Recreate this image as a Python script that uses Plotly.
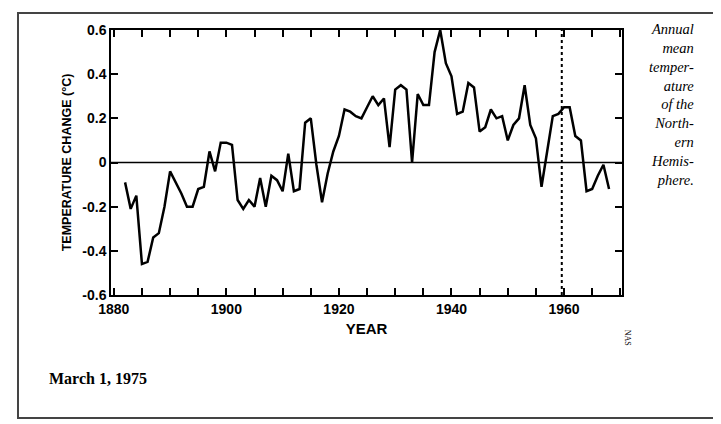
import plotly.graph_objects as go

temps = [-0.09, -0.21, -0.15, -0.46, -0.45, -0.34, -0.32, -0.2, -0.04,
         -0.09, -0.14, -0.2, -0.2, -0.12, -0.11, 0.05, -0.04, 0.09, 0.09,
         0.08, -0.17, -0.21, -0.17, -0.2, -0.07, -0.2, -0.06, -0.08, -0.13,
         0.04, -0.13, -0.12, 0.18, 0.2, -0.01, -0.18, -0.05, 0.05, 0.12,
         0.24, 0.23, 0.21, 0.2, 0.25, 0.3, 0.26, 0.29, 0.07, 0.33, 0.35,
         0.33, 0.0, 0.31, 0.26, 0.26, 0.5, 0.6, 0.45, 0.39, 0.22, 0.23,
         0.36, 0.34, 0.14, 0.16, 0.24, 0.2, 0.21, 0.1, 0.17, 0.2, 0.35,
         0.17, 0.11, -0.11, 0.05, 0.21, 0.22, 0.25, 0.25, 0.12, 0.1, -0.13,
         -0.12, -0.06, -0.01, -0.12]
years = list(range(1882, 1882 + len(temps)))
marker_year = 1959.6

font = "Liberation Sans"
fig = go.Figure()
fig.add_trace(go.Scatter(x=years, y=temps, mode="lines",
                         line=dict(color="black", width=2.5), hoverinfo="skip"))
fig.add_hline(y=0, line=dict(color="black", width=1.5))
fig.add_vline(x=marker_year, line=dict(color="black", width=2, dash="dot"))

axis_common = dict(showgrid=False, zeroline=False, ticks="inside", ticklen=7,
                   tickwidth=1.5, tickcolor="black", showline=True, mirror="ticks",
                   linecolor="black", linewidth=1.5,
                   tickfont=dict(family=font, size=14, color="black"))
xt = list(range(1880, 1971, 5))
fig.update_xaxes(range=[1879.5, 1970.3], tickvals=xt,
                 ticktext=[f"<b>{y}</b>" if y % 20 == 0 else "" for y in xt],
                 title=dict(text="<b>YEAR</b>", font=dict(family=font, size=15, color="black"), standoff=8),
                 **axis_common)
yt = [-0.6, -0.4, -0.2, 0, 0.2, 0.4, 0.6]
fig.update_yaxes(range=[-0.6, 0.6], tickvals=yt,
                 ticktext=[f"<b>{v:g}</b>" for v in yt],
                 title=dict(text="<b>TEMPERATURE CHANGE (°C)</b>", font=dict(family=font, size=12.5, color="black"), standoff=8),
                 **axis_common)

fig.add_annotation(xref="paper", yref="paper", x=1.145, y=1.04, xanchor="right", yanchor="top",
                   align="right", showarrow=False,
                   text="<i>Annual<br>mean<br>temper-<br>ature<br>of the<br>North-<br>ern<br>Hemis-<br>phere.</i>",
                   font=dict(family="Liberation Serif", size=14.5, color="black"))
fig.add_annotation(xref="paper", yref="paper", x=-0.125, y=-0.355, xanchor="left", showarrow=False,
                   text="<b>March 1, 1975</b>", font=dict(family="Liberation Serif", size=16, color="black"))
fig.add_annotation(xref="paper", yref="paper", x=1.025, y=-0.2, showarrow=False, textangle=90,
                   text="NAS", font=dict(family="Liberation Serif", size=8, color="black"))
fig.add_shape(type="rect", xref="paper", yref="paper", x0=-0.182, x1=1.184, y0=-0.464, y1=1.064,
              line=dict(color="#444", width=2))

fig.update_layout(width=721, height=424, plot_bgcolor="white", paper_bgcolor="white",
                  showlegend=False, margin=dict(l=103, r=107, t=22, b=137))
fig.write_html("out.html")
